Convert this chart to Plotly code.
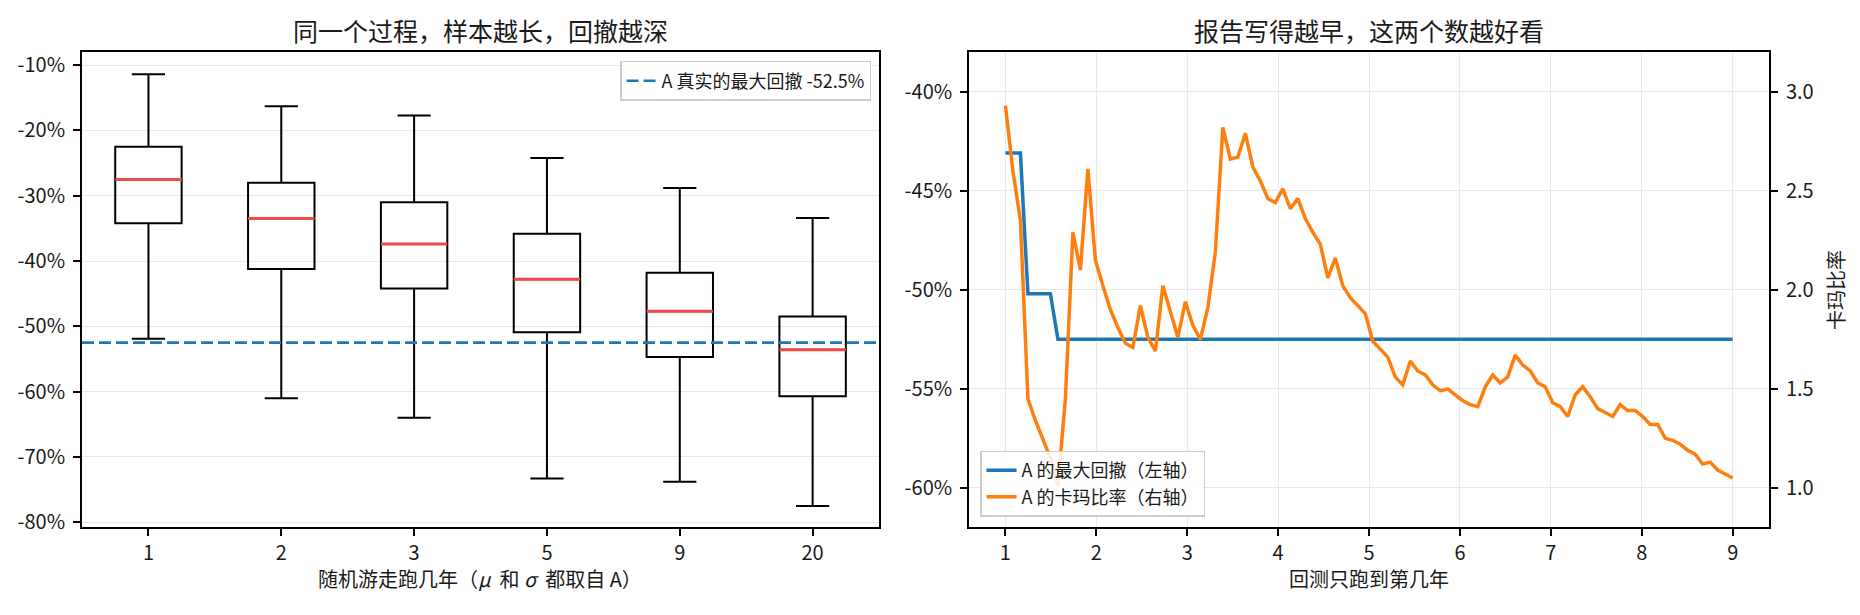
import numpy as np
import plotly.graph_objects as go

FONT = "Noto Sans CJK SC"

# left panel: drawdown distribution by simulated years
box_labels = ["1", "2", "3", "5", "9", "20"]
box_pos = [1, 2, 3, 4, 5, 6]
dd_upper = [-11.4, -16.3, -17.7, -24.2, -28.8, -33.4]
dd_q3 = [-22.5, -28.0, -31.0, -35.8, -41.8, -48.5]
dd_median = [-27.5, -33.5, -37.4, -42.8, -47.7, -53.6]
dd_q1 = [-34.2, -41.2, -44.2, -50.9, -54.7, -60.7]
dd_lower = [-51.9, -61.0, -64.0, -73.3, -73.8, -77.5]
true_mdd = -52.5

left_ticks = [-10, -20, -30, -40, -50, -60, -70, -80]
left_ticktext = ["-10%", "-20%", "-30%", "-40%", "-50%", "-60%", "-70%", "-80%"]

# right panel: backtest cut at year x
mdd_path = [-43.1, -43.1, -43.1, -50.2, -50.2, -50.2, -50.2, -52.5, -52.5, -52.5,
            -52.5, -52.5, -52.5, -52.5, -52.5, -52.5, -52.5, -52.5, -52.5, -52.5,
            -52.5, -52.5, -52.5, -52.5, -52.5, -52.5, -52.5, -52.5, -52.5, -52.5,
            -52.5, -52.5, -52.5, -52.5, -52.5, -52.5, -52.5, -52.5, -52.5, -52.5,
            -52.5, -52.5, -52.5, -52.5, -52.5, -52.5, -52.5, -52.5, -52.5, -52.5,
            -52.5, -52.5, -52.5, -52.5, -52.5, -52.5, -52.5, -52.5, -52.5, -52.5,
            -52.5, -52.5, -52.5, -52.5, -52.5, -52.5, -52.5, -52.5, -52.5, -52.5,
            -52.5, -52.5, -52.5, -52.5, -52.5, -52.5, -52.5, -52.5, -52.5, -52.5,
            -52.5, -52.5, -52.5, -52.5, -52.5, -52.5, -52.5, -52.5, -52.5, -52.5,
            -52.5, -52.5, -52.5, -52.5, -52.5, -52.5, -52.5, -52.5]
calmar_path = [2.93, 2.60, 2.35, 1.45, 1.34, 1.24, 1.15, 1.01, 1.45, 2.29,
               2.10, 2.61, 2.15, 2.02, 1.90, 1.81, 1.73, 1.71, 1.92, 1.76,
               1.69, 2.02, 1.89, 1.76, 1.94, 1.82, 1.75, 1.91, 2.19, 2.82,
               2.66, 2.67, 2.79, 2.62, 2.55, 2.46, 2.44, 2.51, 2.41, 2.46,
               2.36, 2.29, 2.23, 2.06, 2.16, 2.02, 1.96, 1.92, 1.88, 1.74,
               1.70, 1.66, 1.56, 1.52, 1.64, 1.59, 1.57, 1.52, 1.49, 1.50,
               1.47, 1.44, 1.42, 1.41, 1.51, 1.57, 1.53, 1.56, 1.67, 1.62,
               1.59, 1.53, 1.51, 1.43, 1.41, 1.36, 1.47, 1.51, 1.46, 1.40,
               1.38, 1.36, 1.42, 1.39, 1.39, 1.36, 1.32, 1.32, 1.25, 1.24,
               1.22, 1.19, 1.17, 1.12, 1.13, 1.09, 1.07, 1.05]
years = np.linspace(1, 9, len(calmar_path))

right_ticks = [-40, -45, -50, -55, -60]
right_ticktext = ["-40%", "-45%", "-50%", "-55%", "-60%"]
calmar_ticks = [1.0, 1.5, 2.0, 2.5, 3.0]
calmar_ticktext = ["1.0", "1.5", "2.0", "2.5", "3.0"]
year_ticks = [1, 2, 3, 4, 5, 6, 7, 8, 9]

fig = go.Figure()

fig.add_trace(go.Box(
    x=box_pos, q1=dd_q1, median=dd_median, q3=dd_q3,
    lowerfence=dd_lower, upperfence=dd_upper,
    width=0.5, whiskerwidth=0.5, boxpoints=False,
    fillcolor="rgba(0,0,0,0)", line=dict(color="black", width=2),
    xaxis="x", yaxis="y", showlegend=False, hoverinfo="skip"))

# red median bars drawn on top of the boxes
mx, my = [], []
for p, m in zip(box_pos, dd_median):
    mx += [p - 0.25, p + 0.25, None]
    my += [m, m, None]
fig.add_trace(go.Scatter(x=mx, y=my, mode="lines", line=dict(color="#ef4b45", width=3),
                         xaxis="x", yaxis="y", showlegend=False, hoverinfo="skip"))

fig.add_trace(go.Scatter(x=[0.5, 6.5], y=[true_mdd, true_mdd], mode="lines",
                         name="A 真实的最大回撤 -52.5%",
                         line=dict(color="#1f77b4", width=2.6, dash="12px,5px"),
                         xaxis="x", yaxis="y", legend="legend"))

fig.add_trace(go.Scatter(x=years, y=mdd_path, mode="lines", name="A 的最大回撤（左轴）",
                         line=dict(color="#1f77b4", width=3.5),
                         xaxis="x2", yaxis="y3", legend="legend2"))
fig.add_trace(go.Scatter(x=years, y=calmar_path, mode="lines", name="A 的卡玛比率（右轴）",
                         line=dict(color="#ff7f0e", width=3.5),
                         xaxis="x2", yaxis="y4", legend="legend2"))

axis_style = dict(showline=True, linecolor="black", linewidth=1.8, ticks="outside",
                  ticklen=7, tickwidth=1.6, tickcolor="black", zeroline=False,
                  tickfont=dict(family=FONT, size=20, color="#1a1a1a"),
                  gridcolor="#e8e8e8", gridwidth=1.2)
xstyle = dict(axis_style, ticklabelstandoff=0)
ystyle = dict(axis_style, ticklabelstandoff=4)

ydom = [0.1317, 0.9187]
fig.update_layout(
    width=1860, height=615,
    margin=dict(l=0, r=0, t=0, b=0),
    paper_bgcolor="white", plot_bgcolor="white",
    font=dict(family=FONT, size=20, color="#1a1a1a"),
    xaxis=dict(domain=[0.0441, 0.4726], anchor="y", range=[0.5, 6.5],
               tickvals=box_pos, ticktext=box_labels, mirror=True, showgrid=False, **xstyle),
    yaxis=dict(domain=ydom, anchor="x", range=[-80.8, -8.0],
               tickvals=left_ticks, ticktext=left_ticktext, mirror=True, showgrid=True, **ystyle),
    xaxis2=dict(domain=[0.521, 0.9511], anchor="y3", range=[0.6, 9.4],
                tickvals=year_ticks, mirror=True, showgrid=True, **xstyle),
    yaxis3=dict(domain=ydom, anchor="x2", range=[-62, -38],
                tickvals=right_ticks, ticktext=right_ticktext, mirror=True, showgrid=True, **ystyle),
    yaxis4=dict(overlaying="y3", side="right", anchor="x2", range=[0.8, 3.2],
                tickvals=calmar_ticks, ticktext=calmar_ticktext, showgrid=False, **ystyle),
    legend=dict(x=0.4683, xanchor="right", y=0.904, yanchor="top",
                bgcolor="rgba(255,255,255,0.85)", bordercolor="#cccccc", borderwidth=1.5,
                font=dict(family=FONT, size=18)),
    legend2=dict(x=0.5269, xanchor="left", y=0.1496, yanchor="bottom",
                 bgcolor="rgba(255,255,255,0.85)", bordercolor="#cccccc", borderwidth=1.5,
                 font=dict(family=FONT, size=18), tracegroupgap=0),
    showlegend=True,
)

annos = [
    dict(text="同一个过程，样本越长，回撤越深", x=0.2583, y=0.9545, size=25),
    dict(text="报告写得越早，这两个数越好看", x=0.736, y=0.9545, size=25),
    dict(text="随机游走跑几年（<i>μ\u00a0</i>\u00a0和\u00a0<i>σ\u00a0</i>\u00a0都取自 A）", x=0.2583, y=0.047, size=20),
    dict(text="回测只跑到第几年", x=0.736, y=0.047, size=20),
]
for a in annos:
    fig.add_annotation(text=a["text"], x=a["x"], y=a["y"], xref="paper", yref="paper",
                       xanchor="center", yanchor="middle", showarrow=False,
                       font=dict(family=FONT, size=a["size"], color="#1a1a1a"))
fig.add_annotation(text="卡玛比率", x=0.9871, y=0.525, xref="paper", yref="paper",
                   xanchor="center", yanchor="middle", showarrow=False, textangle=-90,
                   font=dict(family=FONT, size=20, color="#1a1a1a"))

# the page body has a default margin; drop it so the figure sits at the window corner
fig.write_html("out.html", config={"displayModeBar": False},
               post_script="document.body.style.margin='0px';")
